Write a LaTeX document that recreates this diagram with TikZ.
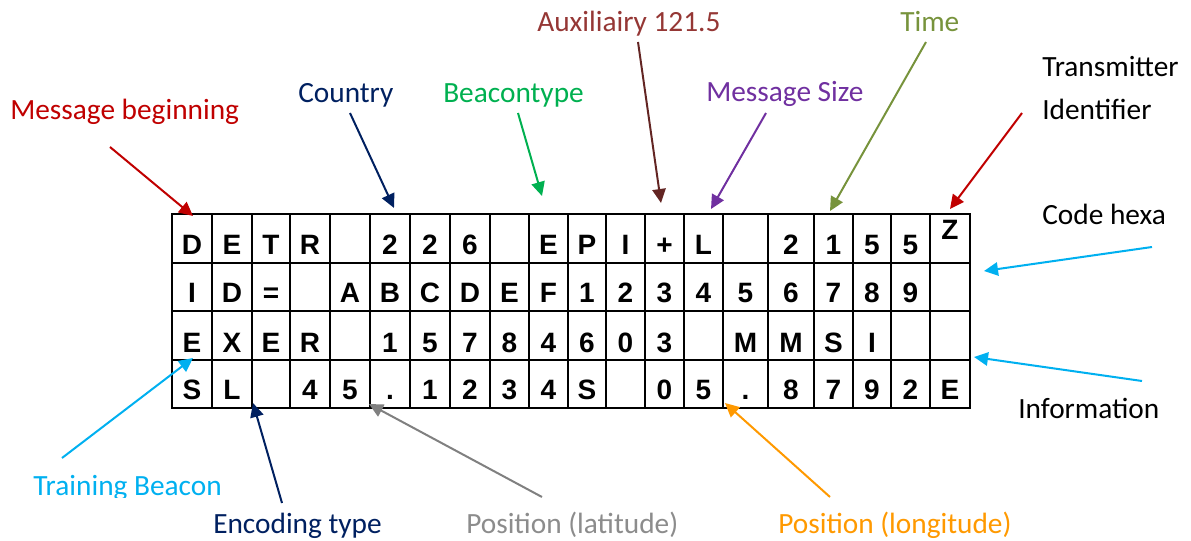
\documentclass[tikz,border=0pt]{standalone}
\usepackage{fontspec}
\setmainfont{Carlito}
\newfontfamily\cellfont{Liberation Sans}
\usetikzlibrary{arrows.meta}
\definecolor{mbred}{HTML}{C00000}
\definecolor{navy}{HTML}{002060}
\definecolor{bgreen}{HTML}{00B050}
\definecolor{auxlbl}{HTML}{953735}
\definecolor{auxarr}{HTML}{632523}
\definecolor{purp}{HTML}{7030A0}
\definecolor{olive}{HTML}{77933C}
\definecolor{cyanb}{HTML}{00B0F0}
\definecolor{grayl}{HTML}{8C8C8C}
\definecolor{grayarr}{HTML}{808080}
\definecolor{orng}{HTML}{FF9900}
\begin{document}
\begin{tikzpicture}[x=0.75pt,y=-0.75pt,
  cell/.style={font=\cellfont\bfseries\fontsize{21}{21}\selectfont, anchor=base, inner sep=0pt},
  lbl/.style={font=\fontsize{22}{24}\selectfont, anchor=base west, inner sep=0pt},
  arr/.style={line width=1.5pt, -{Triangle[length=10.5pt,width=10pt]}},
  gridline/.style={line width=1.5pt, black}]
\useasboundingbox (0,0) rectangle (1191,541);
% grid
\draw[gridline] (172,214) rectangle (970,408);
\foreach \yy in {263,311.5,360} \draw[gridline] (172,\yy) -- (970,\yy);
\foreach \xx in {212,252,290,330,370,410,450,490,529,568,606,645,684,723,768,814,853,891,930} \draw[gridline] (\xx,214) -- (\xx,408);
% row texts
\foreach \cx/\t [count=\i] in {192/D,232/E,271/T,310/R,350/{},390/2,430/2,470/6,509.5/{},548.5/E,587/P,625.5/I,664.5/+,703.5/L,745.5/{},791/2,833.5/1,872/5,910.5/5}
  \node[cell] (ra\i) at (\cx,255) {\t};
\node[cell] (ra20) at (950,240) {Z};
\foreach \cx/\t [count=\i] in {192/I,232/D,271/=,310/{},350/A,390/B,430/C,470/D,509.5/E,548.5/F,587/1,625.5/2,664.5/3,703.5/4,745.5/5,791/6,833.5/7,872/8,910.5/9,950/{}}
  \node[cell] (rb\i) at (\cx,303) {\t};
\foreach \cx/\t [count=\i] in {192/E,232/X,271/E,310/R,350/{},390/1,430/5,470/7,509.5/8,548.5/4,587/6,625.5/0,664.5/3,703.5/{},745.5/M,791/M,833.5/S,872/I,910.5/{},950/{}}
  \node[cell] (rc\i) at (\cx,352) {\t};
\foreach \cx/\t [count=\i] in {192/S,232/L,271/{},310/4,350/5,390/.,430/1,470/2,509.5/3,548.5/4,587/S,625.5/{},664.5/0,703.5/5,745.5/.,791/8,833.5/7,872/9,910.5/2,950/E}
  \node[cell] (rd\i) at (\cx,399) {\t};
% labels
\node[lbl, text=mbred] (lmb) at (10,120) {Message beginning};
\node[lbl, text=navy] (lcountry) at (298,103) {Country};
\node[lbl, text=bgreen] (lbeacon) at (443,103) {Beacontype};
\node[lbl, text=auxlbl] (laux) at (537,32) {Auxiliairy 121.5};
\node[lbl, text=purp] (lsize) at (706,102) {Message Size};
\node[lbl, text=olive] (ltime) at (900,32) {Time};
\node[lbl, text=black] (ltrans) at (1042,77) {Transmitter};
\node[lbl, text=black] (lident) at (1042,120) {Identifier};
\node[lbl, text=black] (lhexa) at (1042,225) {Code hexa};
\node[lbl, text=black] (linfo) at (1018,418) {Information};
\begin{scope}
  \clip (0,0) rectangle (1191,497);
  \node[lbl, text=cyanb] (ltrain) at (33,495) {Training Beacon};
\end{scope}
\node[lbl, text=navy] (lenc) at (213,533) {Encoding type};
\node[lbl, text=grayl] (llat) at (466,533) {Position (latitude)};
\node[lbl, text=orng] (llon) at (778,533) {Position (longitude)};
% arrow endpoints
\coordinate (smb) at (110,147);   \coordinate (tmb) at (193,216);
\coordinate (sco) at (350,113);   \coordinate (tco) at (394,208);
\coordinate (sbe) at (518,113);   \coordinate (tbe) at (542,196);
\coordinate (sau) at (638,42);    \coordinate (tau) at (661,203);
\coordinate (sms) at (766,113);   \coordinate (tms) at (711,209);
\coordinate (sti) at (926,42);    \coordinate (tti) at (830,211);
\coordinate (str) at (1022,113);  \coordinate (ttr) at (950,209);
\coordinate (shx) at (1152,247);  \coordinate (thx) at (984,271);
\coordinate (sin) at (1142,381);  \coordinate (tin) at (974,357);
\coordinate (stb) at (62,458);    \coordinate (ttb) at (193,358);
\coordinate (sen) at (282,503);   \coordinate (ten) at (253,403);
\coordinate (sla) at (542,497);   \coordinate (tla) at (369,404);
\coordinate (slo) at (830,497);   \coordinate (tlo) at (725,403);
% arrows
\draw[arr, mbred] (smb) -- (tmb);
\draw[arr, navy] (sco) -- (tco);
\draw[arr, bgreen] (sbe) -- (tbe);
\draw[arr, auxarr] (sau) -- (tau);
\draw[arr, purp] (sms) -- (tms);
\draw[arr, olive] (sti) -- (tti);
\draw[arr, mbred] (str) -- (ttr);
\draw[arr, cyanb] (shx) -- (thx);
\draw[arr, cyanb] (sin) -- (tin);
\draw[arr, cyanb] (stb) -- (ttb);
\draw[arr, navy] (sen) -- (ten);
\draw[arr, grayarr] (sla) -- (tla);
\draw[arr, orng] (slo) -- (tlo);
\end{tikzpicture}
\end{document}
